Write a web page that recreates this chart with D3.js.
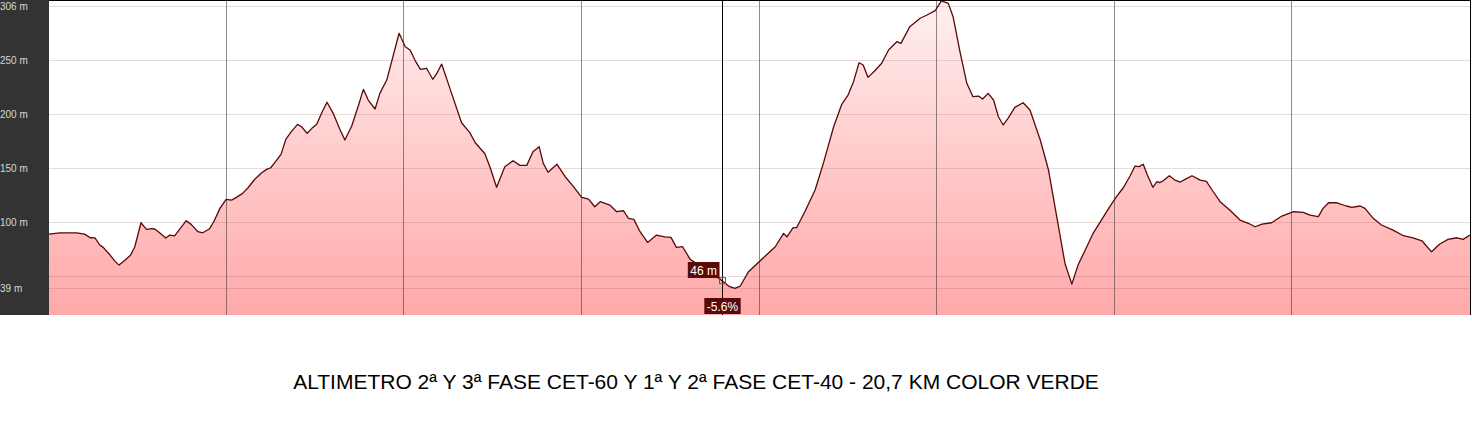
<!DOCTYPE html>
<html>
<head>
<meta charset="utf-8">
<script src="https://cdn.jsdelivr.net/npm/d3@7"></script>
<style>
  html, body { margin: 0; padding: 0; background: #fff; }
  svg { display: block; }
</style>
</head>
<body>
<svg id="chart" width="1472" height="440"></svg>
<script>
// distance (km) and elevation (m) read from the profile
const distanceKm = [0,0.16,0.40,0.52,0.60,0.67,0.74,0.79,0.89,0.96,1.02,1.11,1.19,1.25,1.34,1.42,1.50,1.54,1.62,1.70,1.76,1.83,1.91,2.00,2.07,2.17,2.24,2.34,2.40,2.49,2.58,2.66,2.73,2.82,2.90,3.00,3.10,3.17,3.23,3.30,3.38,3.45,3.53,3.62,3.68,3.76,3.83,3.90,3.97,4.05,4.14,4.23,4.31,4.41,4.51,4.58,4.65,4.75,4.82,4.92,5.01,5.10,5.19,5.26,5.33,5.41,5.50,5.59,5.65,5.72,5.84,6.01,6.13,6.21,6.35,6.43,6.52,6.64,6.76,6.86,6.96,7.05,7.14,7.20,7.27,7.40,7.52,7.64,7.76,7.86,7.95,8.03,8.17,8.27,8.37,8.44,8.52,8.61,8.72,8.85,8.97,9.06,9.14,9.23,9.34,9.55,9.76,9.81,9.90,9.99,10.07,10.19,10.31,10.45,10.58,10.70,10.75,10.84,10.89,11.01,11.16,11.28,11.43,11.55,11.64,11.72,11.80,11.86,11.93,12.03,12.13,12.23,12.35,12.41,12.54,12.69,12.79,12.91,13.00,13.10,13.17,13.27,13.37,13.46,13.54,13.60,13.68,13.76,13.83,13.90,13.97,14.07,14.19,14.29,14.44,14.56,14.68,14.80,14.90,14.99,15.09,15.21,15.33,15.46,15.55,15.65,15.75,15.82,15.88,15.94,16.00,16.08,16.14,16.18,16.23,16.32,16.40,16.48,16.55,16.65,16.77,16.86,16.96,17.06,17.20,17.35,17.47,17.57,17.67,17.81,17.96,18.13,18.27,18.37,18.49,18.56,18.64,18.76,18.90,18.98,19.10,19.17,19.29,19.41,19.58,19.73,19.87,20.00,20.14,20.26,20.38,20.51,20.60,20.70];
const elevationM = [89.1,90.3,90.3,89.1,85.7,85.6,79,76.8,69.7,64.1,60.4,65.1,69.7,77.4,99.6,93.5,94.1,93.8,89.8,85.4,88.2,87.5,94.1,101.5,98.1,91.3,90.3,94.1,100.5,112.9,121.3,120.6,123.1,126.8,132,140.1,145.9,149,150.5,156.1,162.9,176.8,183.9,190.7,188.5,182.4,187,190.7,200.9,211.1,200.9,187,176.2,189.1,208.6,223.1,213.2,204.9,219.4,231.7,253.3,275,262.6,259.5,250.2,241.6,242.6,232.4,237.9,246.5,224,192.2,183,173.7,163.5,150,132.4,151.5,157,152.7,152.7,165.4,170,154.6,146.3,153.7,142.2,133,123.1,121.5,114.4,119.1,116,109.8,110.7,103.7,102.7,91.3,81.4,88.2,86.6,86.1,76.8,77.4,65.7,57,48.1,45.6,41,38.8,41,54.3,61.4,69.7,77.4,89.8,86.6,95,95,109.8,129.9,154.6,188.5,209.5,217.8,230.2,247.7,245.6,234.2,240.3,247.2,259.5,267.2,265.7,281.1,288.9,291.9,295.9,304.9,302.7,290.3,258,228.7,216.3,216.9,214.1,219.4,213.2,197.7,190.1,196.3,206.4,210.7,204,176.2,148.4,105.2,61.9,42.8,60.4,73.7,89.8,102.1,115.3,123.7,132,143.1,152.1,151.5,153.7,143.8,132.4,137.6,136.7,138.5,143.1,139.1,137.3,139.7,143.1,139.1,137.9,128.3,119.1,111.4,102.1,99.1,95.9,98.4,99.6,105.8,109.8,109.2,106.7,105.2,112.9,118.1,118.1,115.1,113.8,115.1,112.9,103.7,97.5,92.8,87.6,85.7,82.9,72.7,79.9,84.2,85.7,84.2,88.2];
const yTickValues = [306, 250, 200, 150, 100, 50, 39];
const yTickLabels = ["306 m", "250 m", "200 m", "150 m", "100 m", "", "39 m"];
const xGridDivisions = 8;
const totalKm = 20.7;
const cursorKm = 9.81;
const cursorElevation = 46;
const cursorElevationLabel = "46 m";
const cursorGradeLabel = "-5.6%";
const titleText = "ALTIMETRO 2ª Y 3ª FASE CET-60 Y 1ª Y 2ª FASE CET-40 - 20,7 KM COLOR VERDE";

(function () {
const svg = d3.select("#chart");
const pLeft = 49, pRight = 1470, pTop = 0, pBottom = 315;

const x = d3.scaleLinear().domain([0, totalKm]).range([pLeft, pRight]);
const y = d3.scaleLinear().domain([14.2, 305.8]).range([pBottom, pTop]);

const data = distanceKm.map((d, i) => ({ d, e: elevationM[i] }));

// left dark panel
svg.append("rect").attr("x", 0).attr("y", 0).attr("width", pLeft).attr("height", pBottom).attr("fill", "#333333");

// gradient
const defs = svg.append("defs");
const grad = defs.append("linearGradient").attr("id", "fillGrad")
  .attr("gradientUnits", "userSpaceOnUse")
  .attr("x1", 0).attr("y1", pTop).attr("x2", 0).attr("y2", pBottom);
grad.append("stop").attr("offset", "0%").attr("stop-color", "#fff0f0");
grad.append("stop").attr("offset", "40%").attr("stop-color", "#ffd2d2");
grad.append("stop").attr("offset", "100%").attr("stop-color", "#ffa9a9");

// area
const area = d3.area().x(d => x(d.d)).y0(pBottom).y1(d => y(d.e));
svg.append("path").datum(data).attr("d", area).attr("fill", "url(#fillGrad)");

// horizontal gridlines
const tickY = v => Math.max(y(v), 6);
svg.append("g").selectAll("line").data(yTickValues).join("line")
  .attr("x1", pLeft).attr("x2", pRight)
  .attr("y1", v => Math.round(tickY(v)) + 0.5).attr("y2", v => Math.round(tickY(v)) + 0.5)
  .attr("stroke", "rgba(150,90,90,0.22)").attr("stroke-width", 1);

// vertical gridlines
const xGrid = d3.range(1, xGridDivisions).map(i => i * totalKm / xGridDivisions);
svg.append("g").selectAll("line").data(xGrid).join("line")
  .attr("x1", d => Math.round(x(d)) - 0.5).attr("x2", d => Math.round(x(d)) - 0.5)
  .attr("y1", pTop).attr("y2", pBottom)
  .attr("stroke", "rgba(70,60,60,0.6)").attr("stroke-width", 1);

// profile line
const line = d3.line().x(d => x(d.d)).y(d => y(d.e));
svg.append("path").datum(data).attr("d", line)
  .attr("fill", "none").attr("stroke", "#5a0808").attr("stroke-width", 1.3).attr("stroke-linejoin", "round");

// borders
svg.append("line").attr("x1", pLeft).attr("x2", pRight + 1).attr("y1", 0.5).attr("y2", 0.5).attr("stroke", "#000");
svg.append("line").attr("x1", pRight + 0.5).attr("x2", pRight + 0.5).attr("y1", 0).attr("y2", pBottom).attr("stroke", "#000");

// y labels
svg.append("g").selectAll("text").data(yTickValues).join("text")
  .attr("x", 0).attr("y", v => tickY(v) + 3.5)
  .attr("font-family", "Liberation Sans, Arial, sans-serif").attr("font-size", 10)
  .attr("fill", "#d8d8d8")
  .text((v, i) => yTickLabels[i]);

// cursor
const cx = Math.round(x(cursorKm)) + 0.5;
svg.append("line").attr("x1", cx).attr("x2", cx).attr("y1", 0).attr("y2", pBottom)
  .attr("stroke", "#000").attr("stroke-width", 1);
const cy = y(cursorElevation);
svg.append("rect").attr("x", cx - 3).attr("y", cy - 3).attr("width", 6).attr("height", 6)
  .attr("fill", "none").attr("stroke", "#c83030").attr("stroke-width", 1);

function tag(text, xr, yc, anchor) {
  const g = svg.append("g");
  const t = g.append("text").attr("font-family", "Liberation Sans, Arial, sans-serif")
    .attr("font-size", 12).attr("fill", "#fff").text(text);
  const w = t.node().getComputedTextLength() + 5;
  const bx = anchor === "end" ? xr - w : xr - w / 2;
  g.insert("rect", "text").attr("x", bx).attr("y", yc - 8).attr("width", w).attr("height", 16).attr("fill", "#5a0808");
  t.attr("x", bx + 2.5).attr("y", yc + 4.5);
}
tag(cursorElevationLabel, cx - 3, 270, "end");
tag(cursorGradeLabel, cx, 306, "middle");

// title
svg.append("text").attr("x", 696).attr("y", 389).attr("text-anchor", "middle")
  .attr("font-family", "Liberation Sans, Arial, sans-serif").attr("font-size", 21)
  .attr("fill", "#000").text(titleText);
})();
</script>
</body>
</html>
